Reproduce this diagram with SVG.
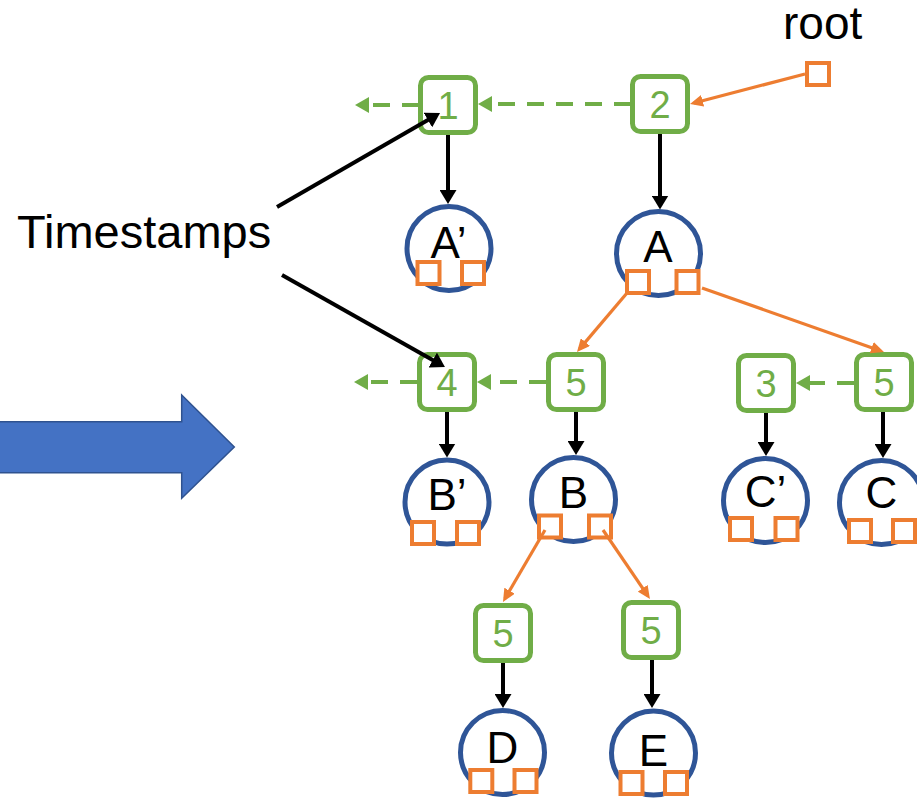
<svg xmlns="http://www.w3.org/2000/svg" width="917" height="798" viewBox="0 0 917 798">
  <style>
    .ts rect { fill: #fff; stroke: #70AD47; stroke-width: 5; }
    .ts text { fill: #70AD47; font-family: "Liberation Sans", Arial, sans-serif; font-size: 38px; text-anchor: middle; }
    .nd circle { fill: #fff; stroke: #2F5597; stroke-width: 5; }
    .nd text { fill: #000; font-family: "Liberation Sans", Arial, sans-serif; font-size: 44px; text-anchor: middle; }
    .ptr { fill: #fff; stroke: #ED7D31; stroke-width: 4; }
    .lbl { fill: #000; font-family: "Liberation Sans", Arial, sans-serif; }
    .blk { stroke: #000; stroke-width: 4; fill: none; marker-end: url(#ahBlack); }
    .grn { stroke: #70AD47; stroke-width: 4; fill: none; stroke-dasharray: 17 12; marker-end: url(#ahGreen); }
    .org { stroke: #ED7D31; stroke-width: 3.2; fill: none; marker-end: url(#ahOrange); }
  </style>
  <defs>
    <marker id="ahBlack" markerUnits="userSpaceOnUse" markerWidth="14" markerHeight="17" refX="9" refY="8.5" orient="auto">
      <path d="M0,0 L14,8.5 L0,17 Z" fill="#000"/>
    </marker>
    <marker id="ahGreen" markerUnits="userSpaceOnUse" markerWidth="14" markerHeight="16" refX="9" refY="8" orient="auto">
      <path d="M0,0 L14,8 L0,16 Z" fill="#70AD47"/>
    </marker>
    <marker id="ahOrange" markerUnits="userSpaceOnUse" markerWidth="13" markerHeight="12" refX="9" refY="6" orient="auto">
      <path d="M0,0 L13,6 L0,12 Z" fill="#ED7D31"/>
    </marker>
  </defs>

  <!-- big transition arrow -->
  <polygon points="-2,421.7 181.7,421.7 181.7,395 234.3,447 181.7,498.3 181.7,472.7 -2,472.7" fill="#4472C4" stroke="#2F528F" stroke-width="1.5"/>

  <text class="lbl" x="17" y="248" font-size="47">Timestamps</text>

  <!-- root pointer -->
  <g id="root">
    <text class="lbl" x="783" y="39" font-size="46">root</text>
    <rect class="ptr" x="807" y="63" width="22" height="22"/>
  </g>

  <!-- timestamp boxes -->
  <g id="ts1" class="ts"><rect x="420.5" y="77.5" width="55" height="55" rx="8"/><text x="448" y="119">1</text></g>
  <g id="ts2" class="ts"><rect x="632.5" y="76.5" width="55" height="55" rx="8"/><text x="660" y="118">2</text></g>
  <g id="ts4" class="ts"><rect x="419.5" y="354.5" width="55" height="55" rx="8"/><text x="447" y="396">4</text></g>
  <g id="ts5b" class="ts"><rect x="548.5" y="354.5" width="55" height="55" rx="8"/><text x="576" y="396">5</text></g>
  <g id="ts3" class="ts"><rect x="738.5" y="355.5" width="55" height="55" rx="8"/><text x="766" y="397">3</text></g>
  <g id="ts5c" class="ts"><rect x="856.5" y="354.5" width="55" height="55" rx="8"/><text x="884" y="396">5</text></g>
  <g id="ts5d" class="ts"><rect x="475.5" y="605.5" width="55" height="55" rx="8"/><text x="503" y="647">5</text></g>
  <g id="ts5e" class="ts"><rect x="623.5" y="602.5" width="55" height="55" rx="8"/><text x="651" y="644">5</text></g>

  <!-- tree nodes -->
  <g id="nodeA1" class="nd">
    <circle cx="449" cy="248.5" r="42"/><text x="448.5" y="258">A’</text>
    <rect class="ptr" x="417.5" y="262" width="22" height="22"/><rect class="ptr" x="462" y="262" width="22" height="22"/>
  </g>
  <g id="nodeA" class="nd">
    <circle cx="658.5" cy="253.5" r="42"/><text x="658" y="261.5">A</text>
    <rect class="ptr" x="627" y="271" width="22" height="22"/><rect class="ptr" x="676.5" y="271" width="22" height="22"/>
  </g>
  <g id="nodeB1" class="nd">
    <circle cx="447" cy="502" r="42"/><text x="447" y="510">B’</text>
    <rect class="ptr" x="412" y="522" width="22" height="22"/><rect class="ptr" x="457" y="522" width="22" height="22"/>
  </g>
  <g id="nodeB" class="nd">
    <circle cx="573.5" cy="499.5" r="42"/><text x="573.5" y="508">B</text>
    <rect class="ptr" x="539" y="515.5" width="22" height="22"/><rect class="ptr" x="589" y="515.5" width="22" height="22"/>
  </g>
  <g id="nodeC1" class="nd">
    <circle cx="765.5" cy="500.5" r="42"/><text x="765.5" y="507">C’</text>
    <rect class="ptr" x="730" y="518" width="22" height="22"/><rect class="ptr" x="775.5" y="518" width="22" height="22"/>
  </g>
  <g id="nodeC" class="nd">
    <circle cx="881.5" cy="502.5" r="42"/><text x="881.5" y="508">C</text>
    <rect class="ptr" x="849" y="520" width="22" height="22"/><rect class="ptr" x="893" y="520" width="22" height="22"/>
  </g>
  <g id="nodeD" class="nd">
    <circle cx="502.5" cy="752.5" r="42"/><text x="502.5" y="763">D</text>
    <rect class="ptr" x="470.3" y="770" width="22" height="22"/><rect class="ptr" x="514.5" y="770" width="22" height="22"/>
  </g>
  <g id="nodeE" class="nd">
    <circle cx="653.5" cy="753" r="42"/><text x="653.5" y="766">E</text>
    <rect class="ptr" x="620.5" y="772" width="22" height="22"/><rect class="ptr" x="665" y="772" width="22" height="22"/>
  </g>

  <!-- connectors -->
  <g id="connectors">
    <!-- timestamp to node -->
    <line class="blk" x1="448" y1="135" x2="448" y2="199"/>
    <line class="blk" x1="660" y1="134" x2="660" y2="204.5"/>
    <line class="blk" x1="447" y1="412" x2="447" y2="452.5"/>
    <line class="blk" x1="576" y1="412" x2="576" y2="450"/>
    <line class="blk" x1="766" y1="413" x2="766" y2="451"/>
    <line class="blk" x1="883" y1="412" x2="883" y2="453"/>
    <line class="blk" x1="503" y1="663" x2="503" y2="703"/>
    <line class="blk" x1="652" y1="660" x2="652" y2="703"/>
    <!-- label callouts -->
    <line class="blk" x1="277" y1="207" x2="435.7" y2="115.5"/>
    <line class="blk" x1="282" y1="275" x2="440.6" y2="364.5"/>
    <!-- version chains -->
    <line class="grn" x1="631" y1="104" x2="483" y2="104"/>
    <line class="grn" x1="419" y1="105" x2="360" y2="105"/>
    <line class="grn" x1="546" y1="382" x2="482" y2="382"/>
    <line class="grn" x1="417" y1="382" x2="359" y2="382"/>
    <line class="grn" x1="854" y1="383" x2="801" y2="383"/>
    <!-- child pointers -->
    <line class="org" x1="805" y1="74" x2="693.9" y2="103"/>
    <line class="org" x1="627" y1="293" x2="579.6" y2="348.9"/>
    <line class="org" x1="702" y1="288" x2="880.2" y2="350.7"/>
    <line class="org" x1="545" y1="530" x2="505" y2="598.5"/>
    <line class="org" x1="603" y1="530" x2="647.7" y2="595.7"/>
  </g>
</svg>
